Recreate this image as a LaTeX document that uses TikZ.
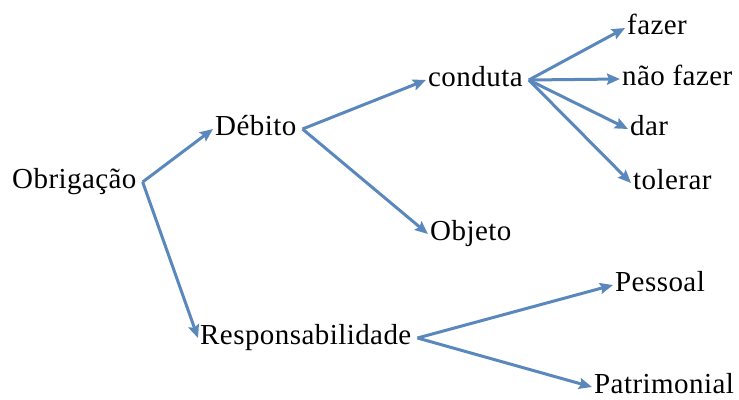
\documentclass[tikz,border=0pt]{standalone}
\usepackage{fontspec}
\setmainfont[LetterSpace=1.5]{Liberation Serif}
\usetikzlibrary{arrows.meta}
\definecolor{linkblue}{RGB}{90,136,188}

\begin{document}
\begin{tikzpicture}[x=1pt, y=-1pt]

\def\gap{4pt} % space between a term and the start of its links

\tikzset{term/.style = {anchor=base west, inner xsep=2pt, inner ysep=0pt,
                        font=\rmfamily\fontsize{29}{32}\selectfont,
                        text height=17pt, text depth=5pt}
        }

\tikzset{link/.style = {draw=linkblue, line width=3pt,
                        -{Stealth[length=13pt, width=11pt, inset=2pt]}}
        }

\useasboundingbox (0,0) rectangle (739,399);

% terms
\node[term] (obrigacao) at ( 10,188) {Obrigação};
\node[term] (debito)    at (213,135) {Débito};
\node[term] (resp)      at (198,344) {Responsabilidade};
\node[term] (conduta)   at (426, 86) {conduta};
\node[term] (objeto)    at (428,240) {Objeto};
\node[term] (fazer)     at (625, 34) {fazer};
\node[term] (naofazer)  at (620, 85) {não fazer};
\node[term] (dar)       at (628,135) {dar};
\node[term] (tolerar)   at (631,189) {tolerar};
\node[term] (pessoal)   at (613,291) {Pessoal};
\node[term] (patrim)    at (592,393) {Patrimonial};

% links
\draw[link] ([xshift=\gap]obrigacao.east) -- (debito.west);
\draw[link] ([xshift=\gap]obrigacao.east) -- (resp.west);

\draw[link] ([xshift=\gap]debito.east) -- (conduta.west);
\draw[link] ([xshift=\gap]debito.east) -- (objeto.west);

\foreach \t in {fazer, naofazer, dar, tolerar}
    \draw[link] ([xshift=\gap]conduta.east) -- (\t.west);

\draw[link] ([xshift=\gap]resp.east) -- (pessoal.west);
\draw[link] ([xshift=\gap]resp.east) -- (patrim.west);

\end{tikzpicture}
\end{document}
